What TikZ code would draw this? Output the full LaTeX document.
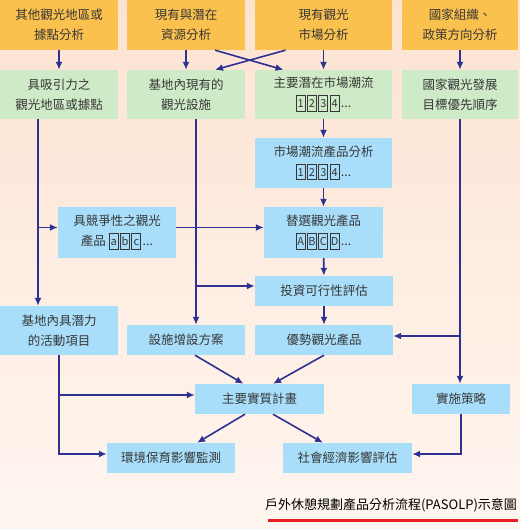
\documentclass[tikz,border=0pt]{standalone}
\usepackage{fontspec}
\newfontfamily\cjk{Noto Sans CJK TC}
\usetikzlibrary{arrows.meta}

\definecolor{bgtop}{RGB}{253,227,210}
\definecolor{bgbot}{RGB}{254,246,240}
\definecolor{boxorange}{RGB}{251,193,78}
\definecolor{boxgreen}{RGB}{207,234,199}
\definecolor{boxblue}{RGB}{168,222,250}
\definecolor{linkblue}{RGB}{46,49,146}
\definecolor{txtgray}{RGB}{55,55,55}
\definecolor{capred}{RGB}{232,28,36}

% ky tu dong khung
\newcommand\framech[1]{{\setlength\fboxsep{0.3pt}\setlength\fboxrule{1pt}%
  \fbox{\makebox[7.5pt]{\rule[-3pt]{0pt}{14pt}\fontsize{11}{12}\selectfont #1}}}\kern1.2pt}

\tikzset{
  box/.style={inner sep=0pt, align=center, text=txtgray,
    font=\cjk\fontsize{12.5}{20}\selectfont},
  wh/.style 2 args={minimum width=#1pt, minimum height=#2pt},
  obox/.style={box, fill=boxorange},
  gbox/.style={box, fill=boxgreen},
  bbox/.style={box, fill=boxblue},
  link/.style={draw=linkblue, line width=1.6pt, -{Latex[length=8pt,width=7pt]}},
}

\begin{document}
\begin{tikzpicture}[x=1pt, y=-1pt]
    % 1. Nen
    \shade[top color=bgtop, bottom color=bgbot] (0,0) rectangle (520,529);
    \useasboundingbox (0,0) rectangle (520,529);

    % 2. Hang tren: phan tich
    \node[obox, wh={118}{50}] (src1) at (59,25) {其他觀光地區或\\據點分析};
    \node[obox, wh={118}{50}] (src2) at (186,25) {現有與潛在\\資源分析};
    \node[obox, wh={137}{50}] (src3) at (323.5,25) {現有觀光\\市場分析};
    \node[obox, wh={116}{50}] (src4) at (460,25) {國家組織、\\政策方向分析};

    % 3. Hang hai
    \node[gbox, wh={118}{49}] (g1) at (59,94.5) {具吸引力之\\觀光地區或據點};
    \node[gbox, wh={118}{49}] (g2) at (186,94.5) {基地內現有的\\觀光設施};
    \node[gbox, wh={137}{49}] (g3) at (323.5,94.5)
        {主要潛在市場潮流\\\framech{\itshape 1}\framech{\itshape 2}\framech{\itshape 3}\framech{\itshape 4}...};
    \node[gbox, wh={116}{49}] (g4) at (460,94.5) {國家觀光發展\\目標優先順序};

    % 4. San pham
    \node[bbox, wh={137}{50}] (trend) at (323.5,163)
        {市場潮流產品分析\\\framech{\itshape 1}\framech{\itshape 2}\framech{\itshape 3}\framech{\itshape 4}...};
    \node[bbox, wh={118}{51}] (comp) at (117,232.5)
        {具競爭性之觀光\\產品 \framech{a}\framech{b}\framech{c}...};
    \node[bbox, wh={119}{51}] (alt) at (323.5,232.5)
        {替選觀光產品\\\framech{A}\framech{B}\framech{C}\framech{D}...};
    \node[bbox, wh={138}{30}] (invest) at (324,291) {投資可行性評估};
    \node[bbox, wh={118}{49}] (pot) at (59,330.5) {基地內具潛力\\的活動項目};
    \node[bbox, wh={118}{30}] (facil) at (186,340) {設施增設方案};
    \node[bbox, wh={138}{30}] (adv) at (324,340) {優勢觀光產品};

    % 5. Ke hoach
    \node[bbox, wh={129}{30}] (plan) at (259.5,399) {主要實質計畫};
    \node[bbox, wh={98}{30}] (strat) at (461,399) {實施策略};
    \node[bbox, wh={128}{30}] (env) at (171,458) {環境保育影響監測};
    \node[bbox, wh={129}{30}] (soc) at (347.5,458) {社會經濟影響評估};

    % 6. Mui ten
    \draw[link] (src1) -- (g1);
    \draw[link] (src2) -- (g2);
    \draw[link] (src3) -- (g3);
    \draw[link] (src4) -- (g4);
    \draw[link] ([xshift=29pt]src2.south) -- ([xshift=-40pt]g3.north);
    \draw[link] ([xshift=-38pt]src3.south) -- ([xshift=29pt]g2.north);

    \draw[link] ([xshift=-21pt]g1.south) -- ([xshift=-21pt]pot.north);
    \draw[link] ([xshift=-21pt]g1.south) |- ([yshift=5pt]comp.west);
    \draw[link] ([yshift=5pt]comp.east) -- ([yshift=5pt]alt.west);
    \draw[link] ([xshift=10pt]g2.south) -- ([xshift=10pt]facil.north);
    \draw[link] ([xshift=10pt]g2.south) |- ([yshift=5pt]invest.west);

    \draw[link] (g3) -- (trend);
    \draw[link] (trend) -- (alt);
    \draw[link] (alt) -- (invest);
    \draw[link] (invest) -- (adv);

    \draw[link] (g4.south) -- (g4.south |- strat.north);
    \draw[link] (g4.south) |- ([yshift=4pt]adv.east);
    \draw[link] (strat.south) |- ([yshift=4pt]soc.east);

    \draw[link] (pot.south) |- ([yshift=4pt]plan.west);
    \draw[link] (pot.south) |- ([yshift=4pt]env.west);
    \draw[link] ([xshift=9pt]facil.south) -- ([xshift=-16pt]plan.north);
    \draw[link] (adv.south) -- ([xshift=13.5pt]plan.north);
    \draw[link] ([xshift=-14.5pt]plan.south) -- ([xshift=26pt]env.north);
    \draw[link] ([xshift=13.5pt]plan.south) -- ([xshift=-24.5pt]soc.north);

    % 7. Chu thich
    \node[font=\cjk\fontsize{13}{15}\selectfont, inner sep=0pt] (cap) at (391,505)
        {戶外休憩規劃產品分析流程(PASOLP)示意圖};
    \draw[capred, line width=3pt] (268,520) -- (518,520);
\end{tikzpicture}
\end{document}
